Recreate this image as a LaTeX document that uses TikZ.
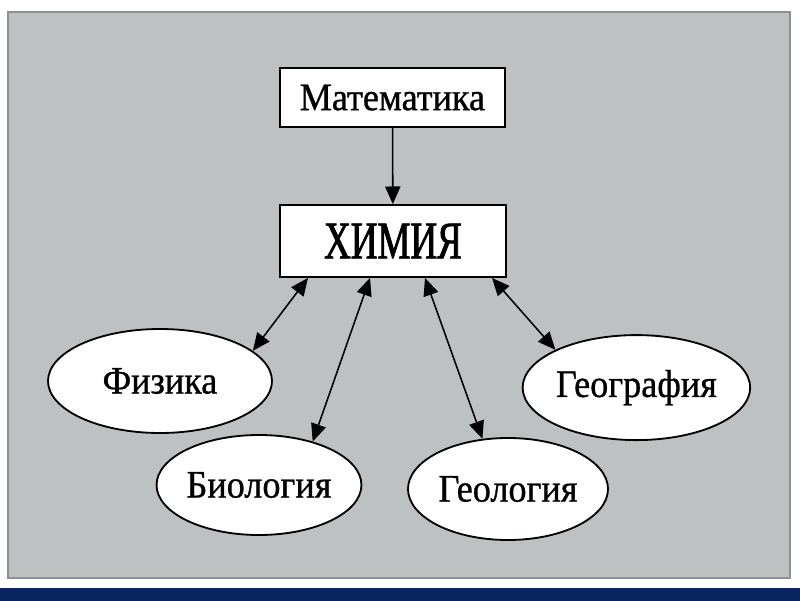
\documentclass[tikz,border=0pt]{standalone}
\usepackage{fontspec}
\setmainfont{Liberation Serif}
\newfontfamily\condfont[FakeStretch=0.93,FakeBold=0.8]{Liberation Serif}
\newfontfamily\chemfont[FakeStretch=0.7,FakeBold=1.6]{Liberation Serif}
\usetikzlibrary{arrows.meta}
\usetikzlibrary{shapes.geometric}
\definecolor{panel}{HTML}{BDC1C1}
\definecolor{frame}{HTML}{8C9090}
\definecolor{navyA}{HTML}{0A2560}
\definecolor{navyB}{HTML}{22468E}

\begin{document}
\begin{tikzpicture}[inner sep=0pt,
  >={Triangle[length=4.4mm,width=3.8mm]},
  box/.style={draw, fill=white, line width=1.3pt, rectangle},
  oval/.style={draw, fill=white, line width=1.3pt, ellipse},
  word/.style={font=\condfont\fontsize{27.7}{30}\selectfont},
  link/.style={line width=1.1pt}]
\fill[white] (0, 0) rectangle (20, 15);
\shade[left color=navyA, middle color=navyB, right color=navyA] (0, 0) rectangle (20, 0.3);
\draw[frame, line width=2pt, fill=panel] (0.2, 0.55) rectangle (19.75, 14.7);

\node (mat) at (9.81, 12.56) [box, word, minimum width=5.63cm, minimum height=1.48cm] {Математика};
\node (chem) at (9.825, 8.975) [box, minimum width=5.65cm, minimum height=1.8cm,
  font=\chemfont\fontsize{37.6}{40}\selectfont] {ХИМИЯ};

\node (phys) at (4.0, 5.475) [oval, word, minimum width=5.6cm, minimum height=2.6cm] {Физика};
\node (bio) at (6.475, 2.875) [oval, word, minimum width=5.05cm, minimum height=2.5cm] {Биология};
\node (geol) at (12.7, 2.775) [oval, word, minimum width=5.0cm, minimum height=2.55cm] {Геология};
\node (geog) at (15.91, 5.31) [oval, word, minimum width=5.675cm, minimum height=2.625cm] {География};

\draw [link, ->] (mat) -- (chem);
\draw [link, <->] ([xshift=-2.125cm]chem.south) -- (phys.18);
\draw [link, <->] ([xshift=-0.575cm]chem.south) -- (bio.39);
\draw [link, <->] ([xshift=0.8cm]chem.south) -- (geol.117);
\draw [link, <->] ([xshift=2.475cm]chem.south) -- (geog.155);
\end{tikzpicture}
\end{document}
